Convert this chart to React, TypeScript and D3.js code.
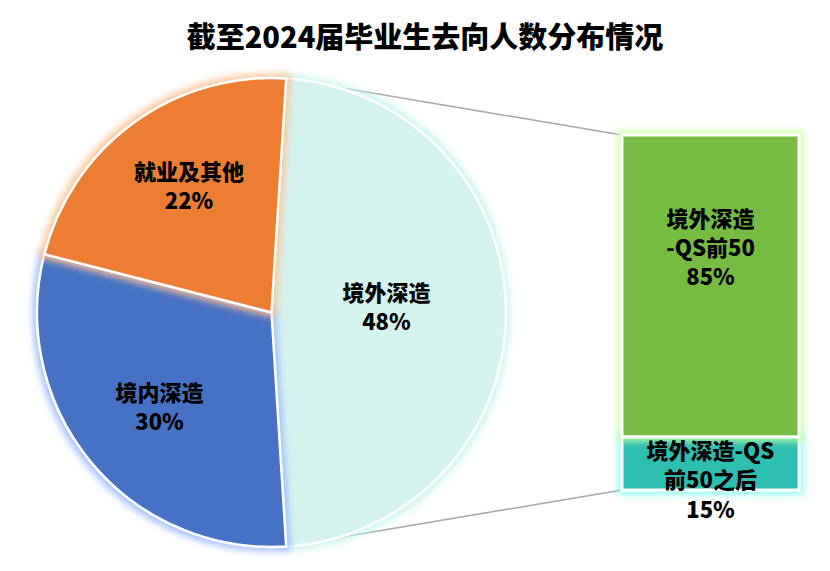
import React, { useEffect, useRef } from 'react'
import * as d3 from 'd3'

const pieNames = ['境外深造', '境内深造', '就业及其他']
const pieValues = [48, 30, 22]
const pieColors = ['#d5f3ef', '#4472c4', '#ed7d31']
const pieGlow = ['#c9f5ef', '#9ab8ff', '#ffc08f']

const barNames = ['境外深造-QS前50之后', '境外深造-QS前50']
const barValues = [15, 85]
const barColors = ['#2fbfb1', '#77bc43']
const barGlow = ['#7ffff0', '#c8ff9e']
const barLabelLines = [['境外深造-QS', '前50之后', '15%'], ['境外深造', '-QS前50', '85%']]

const W = 830
const H = 571
const FONT = '"Noto Sans CJK SC", "Microsoft YaHei", sans-serif'

export default function App() {
  const svgRef = useRef<SVGSVGElement>(null)

  useEffect(() => {
    if (!svgRef.current) return
    const svg = d3.select(svgRef.current)
    svg.selectAll('*').remove()

    const defs = svg.append('defs')
    const addGlow = (id: string, color: string, size: number) => {
      const f = defs.append('filter').attr('id', id)
        .attr('x', '-20%').attr('y', '-20%').attr('width', '140%').attr('height', '140%')
      f.append('feMorphology').attr('in', 'SourceAlpha').attr('operator', 'dilate').attr('radius', size * 0.5).attr('result', 'dil')
      f.append('feGaussianBlur').attr('in', 'dil').attr('stdDeviation', size * 0.6).attr('result', 'blur')
      f.append('feFlood').attr('flood-color', color).attr('flood-opacity', 0.9)
      f.append('feComposite').attr('in2', 'blur').attr('operator', 'in').attr('result', 'glow')
      const m = f.append('feMerge')
      m.append('feMergeNode').attr('in', 'glow')
      m.append('feMergeNode').attr('in', 'SourceGraphic')
    }
    pieGlow.forEach((c, i) => addGlow('pg' + i, c, 6))
    barGlow.forEach((c, i) => addGlow('bg' + i, c, 5))

    svg.append('text')
      .attr('x', 425).attr('y', 35)
      .attr('text-anchor', 'middle').attr('dominant-baseline', 'central')
      .style('font-family', FONT).style('font-weight', 900).style('font-size', '29px')
      .text('截至2024届毕业生去向人数分布情况')

    // pie
    const cx = 271.5, cy = 312.5, r = 234.5
    const firstAngle = Math.PI / 2 - (pieValues[0] / 100) * Math.PI
    const pie = d3.pie<number>().sort(null).value(d => d)
      .startAngle(firstAngle).endAngle(firstAngle + 2 * Math.PI)
    const arcs = pie(pieValues)
    const arcGen = d3.arc<d3.PieArcDatum<number>>().innerRadius(0).outerRadius(r)
    const labelRadius = [0.49, 0.62, 0.62]
    const labelNudge = [[0, -7], [0, 0], [3, -10]]

    // connector lines
    const top = arcs[0].startAngle, bot = arcs[0].endAngle
    const barX = 622, barW = 177, barTop = 135, barBottom = 490
    const g = svg.append('g')
    g.append('line')
      .attr('x1', cx + r * Math.sin(top)).attr('y1', cy - r * Math.cos(top))
      .attr('x2', barX).attr('y2', barTop)
      .attr('stroke', '#a6a6a6').attr('stroke-width', 1.5)
    g.append('line')
      .attr('x1', cx + r * Math.sin(bot)).attr('y1', cy - r * Math.cos(bot))
      .attr('x2', barX).attr('y2', barBottom)
      .attr('stroke', '#a6a6a6').attr('stroke-width', 1.5)

    const pg = svg.append('g').attr('transform', `translate(${cx},${cy})`)
    pg.selectAll('path.slice').data(arcs).join('path')
      .attr('class', 'slice')
      .attr('d', arcGen)
      .attr('fill', (d, i) => pieColors[i])
      .attr('stroke', 'white').attr('stroke-width', 2.5)
      .attr('filter', (d, i) => `url(#pg${i})`)

    arcs.forEach((a, i) => {
      const mid = (a.startAngle + a.endAngle) / 2
      const lx = r * labelRadius[i] * Math.sin(mid) + labelNudge[i][0]
      const ly = -r * labelRadius[i] * Math.cos(mid) + labelNudge[i][1]
      const t = pg.append('text')
        .attr('text-anchor', 'middle').attr('dominant-baseline', 'central')
        .style('font-family', FONT).style('font-weight', 900).style('font-size', '22px')
      t.append('tspan').attr('x', lx).attr('y', ly - 14.5).text(pieNames[i])
      t.append('tspan').attr('x', lx).attr('y', ly + 14.5).text(pieValues[i] + '%')
    })

    // bar of pie
    const y = d3.scaleLinear().domain([0, d3.sum(barValues)]).range([barBottom, barTop])
    let acc = 0
    barValues.forEach((v, i) => {
      const y0 = y(acc), y1 = y(acc + v)
      acc += v
      svg.append('rect')
        .attr('x', barX).attr('y', y1).attr('width', barW).attr('height', y0 - y1)
        .attr('fill', barColors[i])
        .attr('stroke', 'white').attr('stroke-width', 3)
        .attr('filter', `url(#bg${i})`)
        .append('title').text(barNames[i])
    })
    const barLabelY = [[449, 478, 508], [217, 246, 275]]
    barLabelLines.forEach((lines, i) => {
      const t = svg.append('text')
        .attr('text-anchor', 'middle').attr('dominant-baseline', 'central')
        .style('font-family', FONT).style('font-weight', 900).style('font-size', '22px')
      lines.forEach((ln, j) => {
        t.append('tspan').attr('x', barX + barW / 2).attr('y', barLabelY[i][j]).text(ln)
      })
    })
  }, [])

  return (
    <div style={{ width: W, height: H }}>
      <svg ref={svgRef} width={W} height={H} style={{ position: 'absolute', left: 0, top: 0 }} />
    </div>
  )
}
